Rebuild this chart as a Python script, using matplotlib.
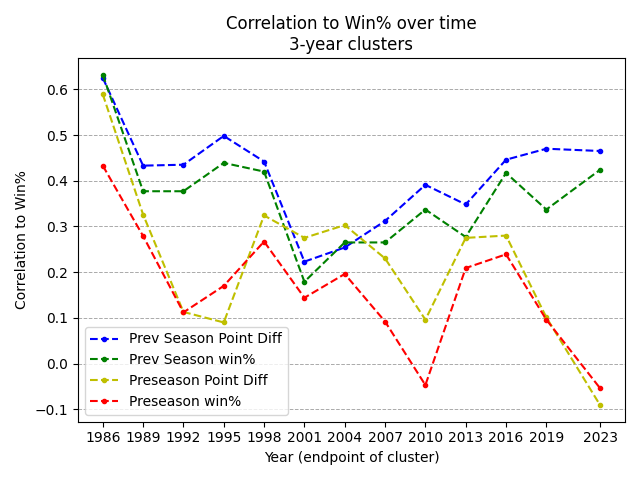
import matplotlib
matplotlib.use("Agg")
import matplotlib.pyplot as plt

years = [1986, 1989, 1992, 1995, 1998, 2001, 2004, 2007, 2010, 2013, 2016, 2019, 2023]

prev_point_diff = [0.625, 0.433, 0.435, 0.498, 0.442, 0.223, 0.254, 0.312, 0.391, 0.348, 0.446, 0.470, 0.465]
prev_win_pct = [0.632, 0.377, 0.377, 0.439, 0.420, 0.179, 0.265, 0.265, 0.337, 0.277, 0.417, 0.337, 0.424]
pre_point_diff = [0.589, 0.326, 0.113, 0.090, 0.324, 0.275, 0.303, 0.230, 0.096, 0.275, 0.280, 0.101, -0.091]
pre_win_pct = [0.433, 0.279, 0.112, 0.170, 0.267, 0.144, 0.196, 0.092, -0.047, 0.209, 0.239, 0.096, -0.054]

fig, ax = plt.subplots(figsize=(6.4, 4.8), dpi=100)

ax.plot(years, prev_point_diff, 'b.--', label='Prev Season Point Diff')
ax.plot(years, prev_win_pct, 'g.--', label='Prev Season win%')
ax.plot(years, pre_point_diff, 'y.--', label='Preseason Point Diff')
ax.plot(years, pre_win_pct, 'r.--', label='Preseason win%')

ax.set_xticks(years)
ax.set_title("Correlation to Win% over time\n3-year clusters")
ax.set_xlabel("Year (endpoint of cluster)")
ax.set_ylabel("Correlation to Win%")
ax.grid(axis='y', linestyle='--', color='#aaaaaa', linewidth=0.7)
ax.legend(loc='lower left')

plt.tight_layout()
plt.savefig("out.png", dpi=100)
